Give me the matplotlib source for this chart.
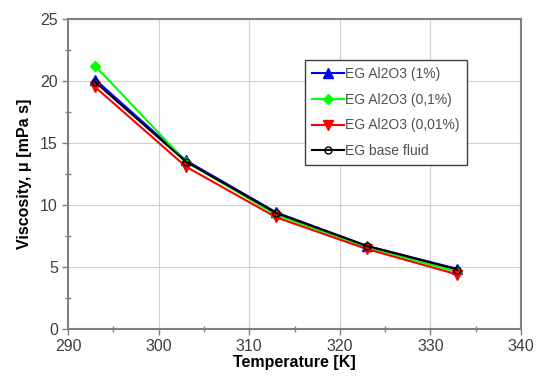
import numpy as np
import matplotlib
matplotlib.use("Agg")
import matplotlib.pyplot as plt
from matplotlib.ticker import MultipleLocator

plt.rcParams["font.family"] = ["Liberation Sans", "DejaVu Sans"]

# datos
temperatura = [293, 303, 313, 323, 333]
visc_1 = [20.1, 13.6, 9.4, 6.7, 4.85]
visc_01 = [21.2, 13.5, 9.2, 6.6, 4.6]
visc_001 = [19.5, 13.1, 9.0, 6.45, 4.4]
visc_base = [19.9, 13.5, 9.35, 6.7, 4.8]

fig = plt.figure(figsize=(5.5, 3.8), dpi=100)
ax = fig.add_axes([0.124, 0.134, 0.823, 0.816])

ax.plot(temperatura, visc_1, color="#0000ff", marker="^",
        markersize=7, lw=1.5, label="EG Al2O3 (1%)", zorder=3)
ax.plot(temperatura, visc_01, color="#00ff00", marker="D",
        markersize=5, lw=1.5, label="EG Al2O3 (0,1%)", zorder=3)
ax.plot(temperatura, visc_001, color="#ff0000", marker="v",
        markersize=7, lw=1.5, label="EG Al2O3 (0,01%)", zorder=3)
ax.plot(temperatura, visc_base, color="black", marker="o", markerfacecolor="none",
        markersize=5, lw=1.5, label="EG base fluid", zorder=4)

ax.set_xlim(290, 340)
ax.set_ylim(0, 25)
ax.xaxis.set_major_locator(MultipleLocator(10))
ax.xaxis.set_minor_locator(MultipleLocator(5))
ax.yaxis.set_major_locator(MultipleLocator(5))
ax.yaxis.set_minor_locator(MultipleLocator(2.5))
ax.grid(True, which="major", color="#d0d0d0", lw=0.8)
ax.set_axisbelow(True)

for s in ax.spines.values():
    s.set_color("#808080")
    s.set_linewidth(1.5)
ax.tick_params(which="both", color="#808080", labelcolor="#404040",
               labelsize=11.5, width=1)
ax.tick_params(which="major", direction="out", length=4)
ax.tick_params(which="minor", direction="inout", length=4)
ax.tick_params(axis="x", pad=3)

ax.set_xlabel("Temperature [K]", fontsize=11.5, fontweight="bold", labelpad=1)
ax.set_ylabel("Viscosity, \u03bc [mPa s]", fontsize=11.5, fontweight="bold", labelpad=6)

leg = ax.legend(loc="upper left", bbox_to_anchor=(0.523, 0.868), borderaxespad=0,
                fancybox=False, framealpha=1, edgecolor="#404040", fontsize=10,
                handlelength=2.3, handletextpad=0.1, borderpad=0.5, labelspacing=0.85)
leg.get_frame().set_linewidth(1.0)
for t in leg.get_texts():
    t.set_color("#505050")

fig.savefig("out.png", dpi=100)
